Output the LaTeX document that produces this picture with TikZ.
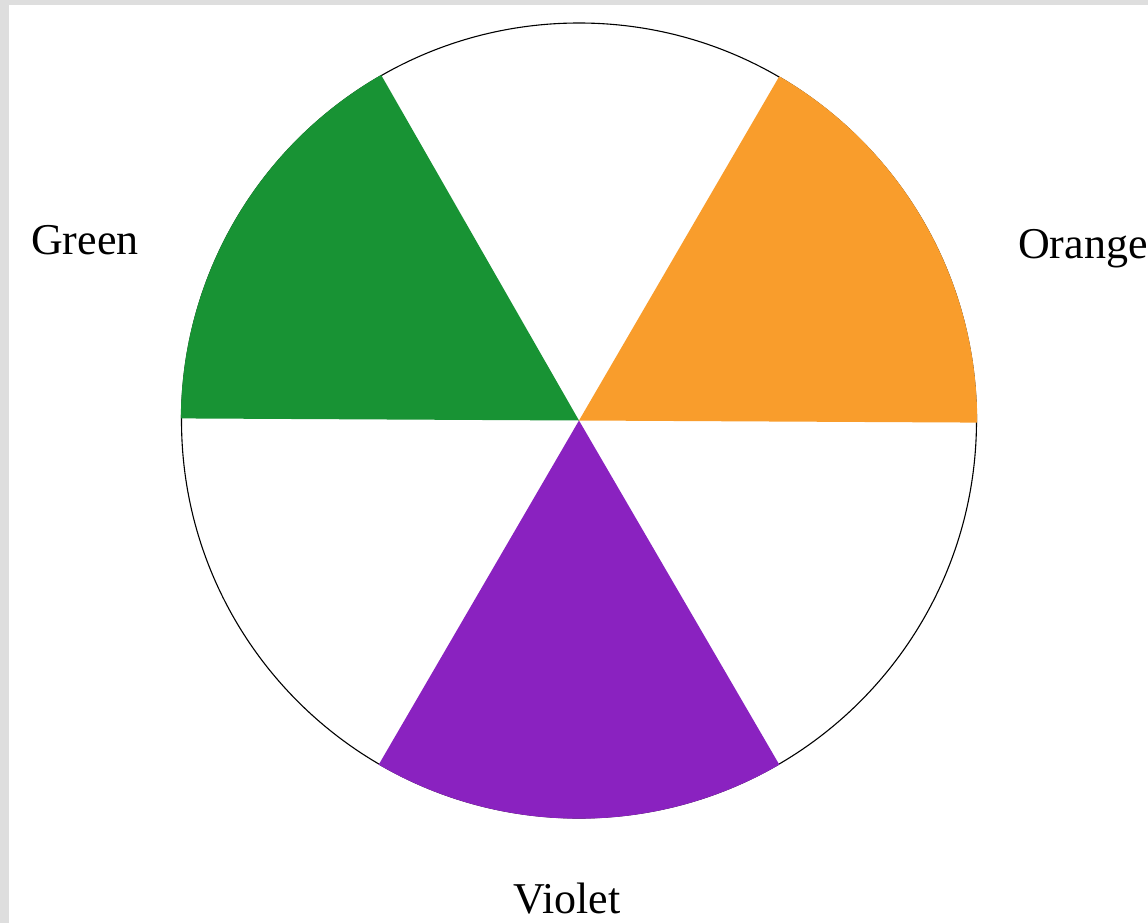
\documentclass[tikz,border=0pt]{standalone}
\usepackage{fontspec}
\setmainfont{Liberation Serif}
\definecolor{bggray}{HTML}{DEDEDE}
\definecolor{wgreen}{HTML}{189334}
\definecolor{worange}{HTML}{F99D2C}
\definecolor{wviolet}{HTML}{8A22C0}
\tikzset{
  label text/.style={inner sep=0pt, font=\fontsize{44bp}{50bp}\selectfont, text=black},
  rim/.style={draw=black, line width=1.1bp},
  sector/.style={draw=none}
}
\begin{document}
\begin{tikzpicture}[x=1bp,y=-1bp]
\useasboundingbox (0,0) rectangle (1148,923);
\fill[bggray] (0,0) rectangle (1148,923);
\fill[white] (9,5) rectangle (1148,923);
\coordinate (c) at (579,420.5);
\draw[rim] (c) circle[radius=397.5];
% sectors (y axis is flipped: angle measured clockwise, so use negative angles)
\fill[wgreen] (c) -- ++(-119.8:398.2) arc[start angle=-119.8, end angle=-179.7, radius=398.2] -- cycle;
\fill[worange] (c) -- ++(-59.8:398.2) arc[start angle=-59.8, end angle=0.3, radius=398.2] -- cycle;
\fill[wviolet] (c) -- ++(120.2:398.2) arc[start angle=120.2, end angle=59.8, radius=398.2] -- cycle;
\node[label text, anchor=base west] (green) at (31,254.5) {Green};
\node[label text, anchor=base west] (orange) at (1018,258.5) {Orange};
\node[label text, anchor=base west] (violet) at (513,913.5) {Violet};
\end{tikzpicture}
\end{document}
